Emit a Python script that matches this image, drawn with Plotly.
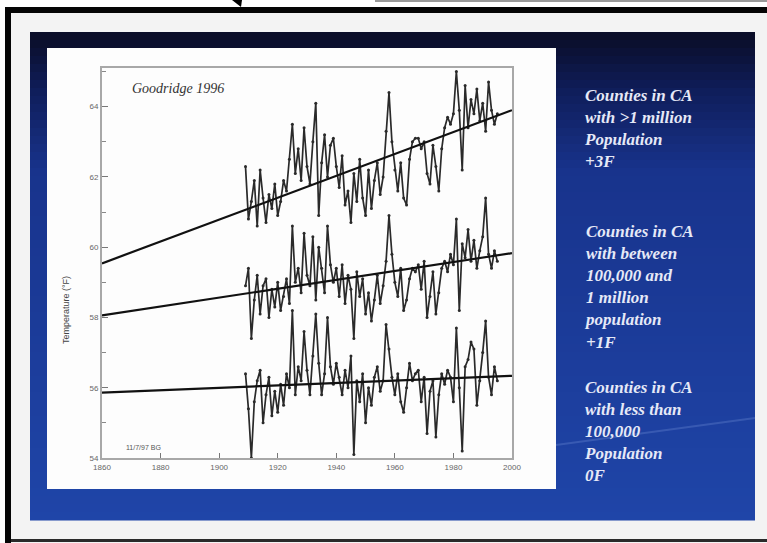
import plotly.graph_objects as go

# ---------------- data ----------------
years = list(range(1909, 1996))

temp_large = [62.3, 60.8, 61.3, 61.9, 60.6, 62.2, 61.4, 60.7, 61.5, 61.1,
              61.8, 60.9, 61.3, 61.9, 61.6, 62.5, 63.5, 62.1, 62.8, 61.9,
              63.4, 62.3, 61.8, 63.0, 64.1, 60.9, 62.4, 63.2, 62.0, 62.9,
              63.1, 62.3, 61.7, 62.6, 61.2, 61.6, 60.7, 62.1, 61.3, 62.5,
              61.4, 60.9, 62.2, 61.1, 61.9, 62.4, 61.5, 62.0, 63.3, 64.4,
              63.0, 62.2, 61.6, 62.4, 61.4, 61.2, 62.5, 63.0, 63.1, 63.1,
              62.8, 63.0, 62.1, 61.8, 62.9, 62.3, 61.6, 62.8, 63.4, 63.7,
              63.5, 63.8, 65.0, 63.9, 62.2, 64.6, 63.4, 64.2, 63.8, 64.5,
              63.6, 64.1, 63.3, 64.7, 63.9, 63.5, 63.8]

temp_mid = [58.9, 59.4, 57.4, 58.5, 59.2, 58.1, 58.9, 59.1, 58.0, 58.8,
            58.3, 59.0, 58.2, 58.6, 59.1, 58.4, 60.6, 59.0, 59.4, 58.7,
            60.4, 59.2, 58.9, 60.3, 58.5, 60.0, 59.4, 58.7, 60.6, 59.5,
            59.0, 59.4, 58.6, 59.5, 58.4, 59.2, 58.8, 57.4, 59.3, 58.6,
            59.1, 58.1, 58.7, 57.9, 58.5, 59.2, 58.4, 58.9, 59.6, 60.9,
            59.8, 59.0, 58.6, 59.4, 58.2, 58.5, 59.1, 59.4, 59.3, 59.5,
            58.8, 59.6, 58.0, 58.6, 59.3, 58.1, 58.7, 59.4, 59.6, 59.3,
            59.8, 59.5, 60.8, 58.2, 60.1, 59.7, 60.5, 59.6, 60.2, 59.4,
            59.9, 60.3, 61.4, 59.8, 59.4, 59.9, 59.6]

temp_small = [56.4, 55.4, 54.0, 55.6, 56.2, 56.5, 55.0, 55.8, 56.3, 55.2,
              55.9, 55.3, 56.1, 55.5, 56.4, 56.0, 58.2, 55.8, 56.6, 56.2,
              57.6, 56.5, 55.8, 56.9, 58.1, 56.7, 55.8, 56.4, 58.0, 56.6,
              56.1, 56.7, 56.3, 55.8, 56.5, 56.0, 56.9, 54.1, 56.2, 55.6,
              56.4, 55.0, 56.0, 55.5, 56.3, 56.6, 55.9, 56.2, 57.8, 57.1,
              56.3, 55.8, 56.4, 55.6, 55.3, 56.0, 56.7, 56.2, 56.4, 56.5,
              55.6, 56.3, 54.7, 55.9, 56.2, 54.6, 55.8, 56.4, 56.1, 56.5,
              56.3, 55.6, 57.7, 56.0, 54.2, 56.6, 56.8, 57.3, 57.1, 55.5,
              56.2, 57.0, 57.9, 56.3, 55.8, 56.6, 56.2]

trend_years = [1860, 2000]
trend_large = [59.54, 63.90]
trend_mid = [58.06, 59.83]
trend_small = [55.86, 56.34]

x_ticks = [1860, 1880, 1900, 1920, 1940, 1960, 1980, 2000]
y_ticks = [54, 56, 58, 60, 62, 64]

label_large = "Counties in CA<br>with >1 million<br>Population<br>+3F"
label_mid = "Counties in CA<br>with between<br>100,000 and<br>1 million<br>population<br>+1F"
label_small = "Counties in CA<br>with less than<br>100,000<br>Population<br>0F"

# ---------------- figure ----------------
W, H = 767, 543


def px(x):
    return x / W


def py(y):
    return 1 - y / H


fig = go.Figure()

line_style = dict(color="#2a2a2a", width=1.7)
trend_style = dict(color="#111111", width=2.2)
for series in (temp_large, temp_mid, temp_small):
    fig.add_trace(go.Scatter(x=years, y=series, mode="lines+markers", line=line_style,
                             marker=dict(size=3, color="#2a2a2a"),
                             hoverinfo="skip", showlegend=False))
for tr in (trend_large, trend_mid, trend_small):
    fig.add_trace(go.Scatter(x=trend_years, y=tr, mode="lines", line=trend_style,
                             hoverinfo="skip", showlegend=False))

shapes = []
shapes.append(dict(type="rect", xref="paper", yref="paper", x0=0, x1=1, y0=0, y1=1,
                   fillcolor="#f3f3f3", line_width=0, layer="below"))
shapes.append(dict(type="rect", xref="paper", yref="paper", x0=0, x1=1, y0=py(7), y1=1,
                   fillcolor="#ffffff", line_width=0, layer="below"))
shapes.append(dict(type="rect", xref="paper", yref="paper", x0=px(5), x1=1, y0=py(13), y1=py(7),
                   fillcolor="#050505", line_width=0, layer="below"))
shapes.append(dict(type="rect", xref="paper", yref="paper", x0=px(5), x1=px(11), y0=0, y1=py(7),
                   fillcolor="#050505", line_width=0, layer="below"))
shapes.append(dict(type="rect", xref="paper", yref="paper", x0=0, x1=px(5), y0=0, y1=py(7),
                   fillcolor="#ffffff", line_width=0, layer="below"))
shapes.append(dict(type="rect", xref="paper", yref="paper", x0=px(11), x1=1, y0=py(542), y1=py(539),
                   fillcolor="#2a2a2a", line_width=0, layer="below"))
shapes.append(dict(type="path", xref="paper", yref="paper",
                   path=f"M {px(232)} {py(0)} L {px(242)} {py(0)} L {px(241)} {py(7)} Z",
                   fillcolor="#000000", line_width=0, layer="below"))
shapes.append(dict(type="line", xref="paper", yref="paper", x0=px(375), x1=1, y0=py(1), y1=py(1),
                   line=dict(color="#777777", width=1.5), layer="below"))

stops = [(32, (10, 12, 36)), (90, (15, 29, 90)), (170, (24, 51, 140)), (520, (31, 69, 168))]


def color_at(y):
    for (y0, c0), (y1, c1) in zip(stops[:-1], stops[1:]):
        if y0 <= y <= y1:
            t = (y - y0) / (y1 - y0)
            return "rgb(%d,%d,%d)" % tuple(round(a + (b - a) * t) for a, b in zip(c0, c1))
    return "rgb(%d,%d,%d)" % stops[-1][1]


y = 32
step = 8
while y < 520:
    y2 = min(y + step, 520)
    shapes.append(dict(type="rect", xref="paper", yref="paper", x0=px(30), x1=px(755),
                       y0=py(y2 + 0.5), y1=py(y), fillcolor=color_at((y + y2) / 2),
                       line_width=0, layer="below"))
    y = y2
shapes.append(dict(type="line", xref="paper", yref="paper", x0=px(556), x1=px(755),
                   y0=py(445), y1=py(418), line=dict(color="rgba(120,150,220,0.3)", width=2),
                   layer="below"))
shapes.append(dict(type="rect", xref="paper", yref="paper", x0=px(47), x1=px(556),
                   y0=py(489), y1=py(48), fillcolor="#fdfdfd", line_width=0, layer="below"))

annotations = [
    dict(text="Goodridge 1996", x=px(130), y=py(88), xref="paper", yref="paper",
         xanchor="left", yanchor="middle", showarrow=False,
         font=dict(family="Liberation Serif", size=14, color="#333333", style="italic")),
    dict(text="11/7/97 BG", x=px(124), y=py(447), xref="paper", yref="paper",
         xanchor="left", yanchor="middle", showarrow=False,
         font=dict(family="Liberation Sans", size=7, color="#555555")),
    dict(text="Temperature (°F)", x=px(66), y=py(310), xref="paper", yref="paper",
         xanchor="center", yanchor="middle", showarrow=False, textangle=-90,
         font=dict(family="Liberation Sans", size=9, color="#444444")),
]
right_font = dict(family="Liberation Serif", size=17, color="#e6e9f7", style="italic", weight="bold")
for txt, ytop in ((label_large, 84), (label_mid, 220), (label_small, 376)):
    annotations.append(dict(text=txt, x=px(582), y=py(ytop), xref="paper", yref="paper",
                            xanchor="left", yanchor="top", align="left", showarrow=False,
                            font=right_font))

fig.update_layout(
    width=W, height=H,
    margin=dict(l=0, r=0, t=0, b=0, pad=0, autoexpand=False),
    paper_bgcolor="#ffffff",
    plot_bgcolor="rgba(0,0,0,0)",
    shapes=shapes,
    annotations=annotations,
    showlegend=False,
    xaxis=dict(domain=[px(102), px(512)], range=[1860, 2000], tickvals=x_ticks, automargin=False,
               ticks="inside", ticklen=5, tickcolor="#777777", showgrid=False, zeroline=False,
               showline=True, linecolor="#a8a8a8", linewidth=2, mirror=True,
               tickfont=dict(family="Liberation Sans", size=8, color="#666666")),
    yaxis=dict(domain=[py(458), py(68)], range=[54, 65.1], tickvals=y_ticks, automargin=False,
               ticks="inside", ticklen=6, tickcolor="#777777", showgrid=False, zeroline=False,
               showline=True, linecolor="#a8a8a8", linewidth=2, mirror=True,
               minor=dict(ticks="inside", ticklen=4, dtick=1, tick0=55, tickcolor="#888888"),
               tickfont=dict(family="Liberation Sans", size=8, color="#666666")),
)

fig.write_html("out.html", config={"displayModeBar": False},
               post_script="document.body.style.margin='0';document.body.style.overflow='hidden';")
